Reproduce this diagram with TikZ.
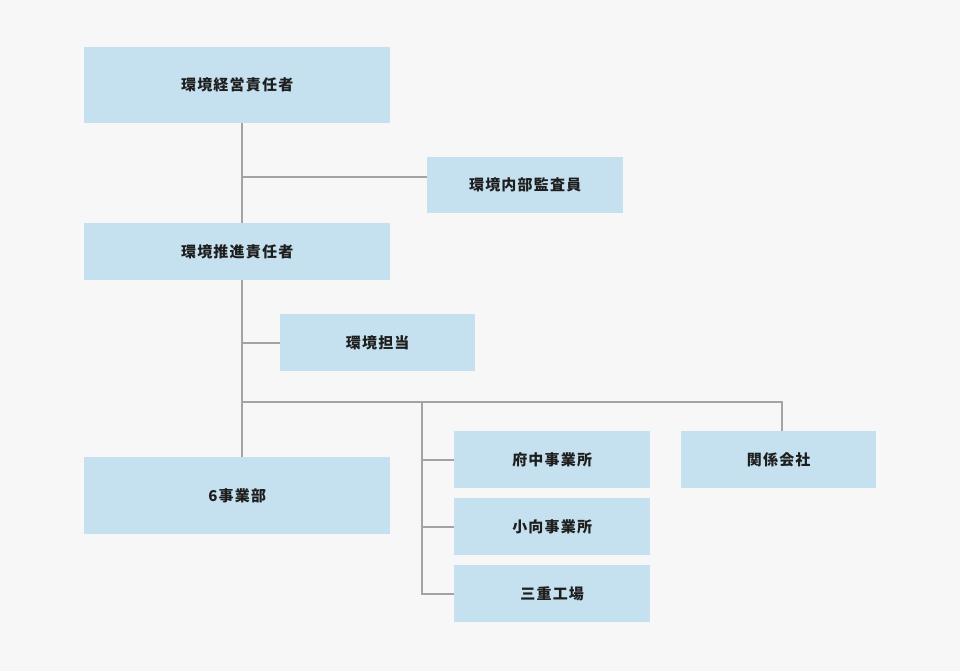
\documentclass[tikz,border=0pt]{standalone}
\usepackage{fontspec}
\newfontfamily\jp{Noto Sans CJK JP}[LetterSpace=8]
\definecolor{bg}{HTML}{F7F7F7}
\definecolor{boxc}{HTML}{C5E1EF}
\definecolor{linec}{HTML}{A3A3A3}
\definecolor{txt}{HTML}{1E1E1E}
\begin{document}
\begin{tikzpicture}[x=1pt,y=-1pt,
  orgbox/.style={fill=boxc,draw=none,inner sep=0pt,anchor=north west,text=txt,
    font=\jp\bfseries\fontsize{15}{15}\selectfont},
  conn/.style={draw=linec,line width=2pt}]
\path[fill=bg,use as bounding box] (0,0) rectangle (960,671);
\node[orgbox,minimum width=306pt,minimum height=76pt] (a) at (84,47) {環境経営責任者};
\node[orgbox,minimum width=196pt,minimum height=56pt] (b) at (427,157) {環境内部監査員};
\node[orgbox,minimum width=306pt,minimum height=57pt] (c) at (84,223) {環境推進責任者};
\node[orgbox,minimum width=195pt,minimum height=57pt] (d) at (280,314) {環境担当};
\node[orgbox,minimum width=306pt,minimum height=77pt] (e) at (84,457) {6事業部};
\node[orgbox,minimum width=196pt,minimum height=57pt] (f) at (454,431) {府中事業所};
\node[orgbox,minimum width=196pt,minimum height=57pt] (g) at (454,498) {小向事業所};
\node[orgbox,minimum width=196pt,minimum height=57pt] (h) at (454,565) {三重工場};
\node[orgbox,minimum width=195pt,minimum height=57pt] (i) at (681,431) {関係会社};
\coordinate (t) at (242,402);
\coordinate (bj) at (427,177);
\coordinate (br) at (422,402);
\coordinate (ij) at (782,431);
\draw[conn] (a.south -| t) -- (c.north -| t);
\draw[conn] (c.south -| t) -- (e.north -| t);
\draw[conn] (bj -| t) -- (bj);
\draw[conn] (d.west -| t) -- (d.west);
\draw[conn] (t) -- (t -| ij) -- (ij);
\draw[conn] (br) -- (br |- h.west) -- (h.west);
\draw[conn] (f.west -| br) -- (f.west);
\draw[conn] (g.west -| br) -- (g.west);
\end{tikzpicture}
\end{document}
